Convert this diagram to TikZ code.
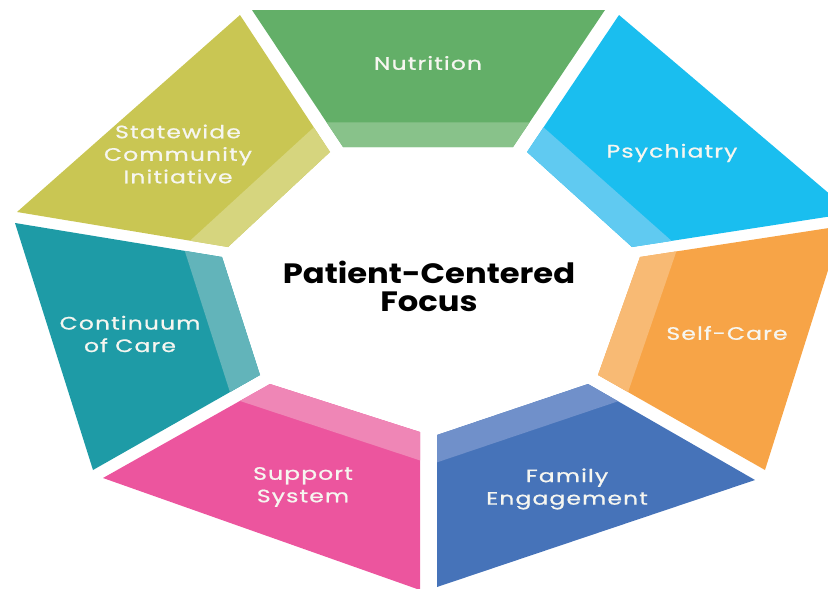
\documentclass[tikz,border=0pt]{standalone}
\usepackage{fontspec}
\setmainfont{Poppins}
\newfontfamily\lblfont[LetterSpace=5,FakeBold=0.8]{Poppins}
\usetikzlibrary{calc}
\definecolor{nutA}{HTML}{63AF68}\definecolor{nutB}{HTML}{88C28A}
\definecolor{psyA}{HTML}{1ABEEF}\definecolor{psyB}{HTML}{60CAF1}
\definecolor{selA}{HTML}{F7A447}\definecolor{selB}{HTML}{F8BA74}
\definecolor{famA}{HTML}{4673B9}\definecolor{famB}{HTML}{7090CA}
\definecolor{supA}{HTML}{EC559E}\definecolor{supB}{HTML}{EF86B6}
\definecolor{conA}{HTML}{1E9BA6}\definecolor{conB}{HTML}{62B4BA}
\definecolor{staA}{HTML}{C9C653}\definecolor{staB}{HTML}{D6D57E}
\definecolor{lbltext}{HTML}{F6F6F0}
\tikzset{
  lbl/.style={text=lbltext, font=\lblfont\fontsize{18}{22.5}\selectfont, align=center, xscale=1.3, inner sep=0pt},
  ctr/.style={text=black, font=\bfseries\fontsize{28}{28}\selectfont, align=center, xscale=1.15, inner sep=0pt}
}
\newcommand\ringseg[6]{%
  \fill[#5] #1 -- #2 -- #3 -- #4 -- cycle;
  \fill[#6] #4 -- #3 -- ($#3!0.18!#2$) -- ($#4!0.18!#1$) -- cycle;
}
\begin{document}
\begin{tikzpicture}[x=1pt,y=-1pt]
\useasboundingbox (0,0) rectangle (828,589);
\clip (0,0) rectangle (828,589);
\ringseg{(252,10)}{(605,10)}{(513,147)}{(343,147)}{nutA}{nutB}
\ringseg{(619,15)}{(852,213)}{(632,247)}{(527,152)}{psyA}{psyB}
\ringseg{(842,226)}{(765,470)}{(598,375)}{(640,257)}{selA}{selB}
\ringseg{(755,480)}{(437,587)}{(437,435)}{(588,384)}{famA}{famB}
\ringseg{(420,590)}{(103,478)}{(270,384)}{(420,432)}{supA}{supB}
\ringseg{(93,470)}{(15,223)}{(222,257)}{(260,375)}{conA}{conB}
\ringseg{(17,212)}{(240,15)}{(330,152)}{(228,247)}{staA}{staB}
\node[lbl] (nut) at (428,63) {Nutrition};
\node[lbl] (psy) at (672,153) {Psychiatry};
\node[lbl] (sel) at (727,333) {Self-Care};
\node[lbl] (fam) at (567,489) {Family\\Engagement};
\node[lbl] (sup) at (303,487) {Support\\System};
\node[lbl] (con) at (130,334) {Continuum\\of Care};
\node[lbl] (sta) at (178,154) {Statewide\\Community\\Initiative};
\node[ctr] (pcf) at (429,286) {Patient-Centered\\Focus};
\end{tikzpicture}
\end{document}
